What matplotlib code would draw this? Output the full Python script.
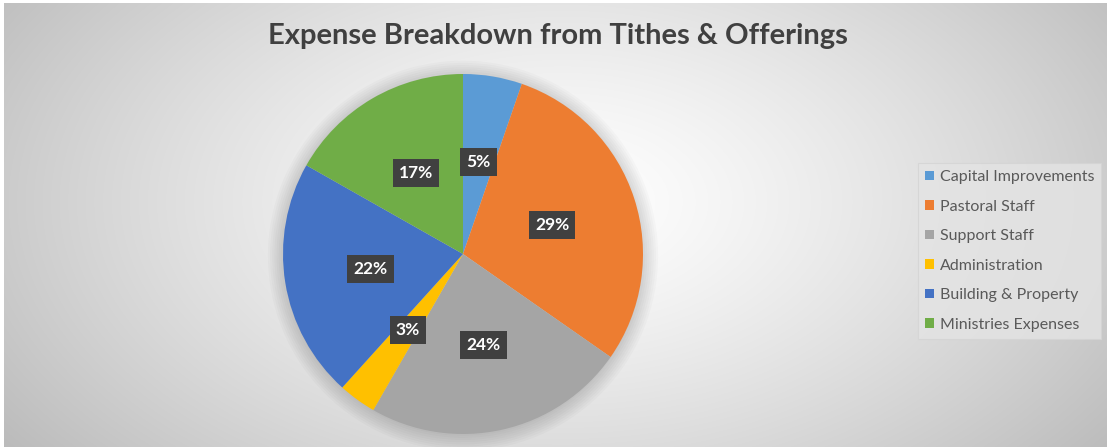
import numpy as np
import matplotlib
matplotlib.use("Agg")
import matplotlib.pyplot as plt
from matplotlib.patches import Patch

# data
categories = ["Capital Improvements", "Pastoral Staff", "Support Staff",
              "Administration", "Building & Property", "Ministries Expenses"]
shares = [5.3, 29.4, 23.6, 3.4, 21.5, 16.8]
colors = ["#5B9BD5", "#ED7D31", "#A5A5A5", "#FFC000", "#4472C4", "#70AD47"]
title = "Expense Breakdown from Tithes & Offerings"

plt.rcParams['font.family'] = ['Lato', 'DejaVu Sans']

W, H = 1107, 447
fig = plt.figure(figsize=(W / 100, H / 100), dpi=100)
fig.patch.set_facecolor("white")

# radial gradient background
bg = fig.add_axes([4 / W, 0, 1 - 4 / W, 1 - 3 / H])
yy, xx = np.mgrid[0:H, 0:W]
d = np.sqrt(((xx - 560) / 700.0) ** 2 + ((yy - 200) / 420.0) ** 2)
shade = 1.0 - 0.27 * np.clip(d, 0, 1.2) ** 1.3
bg.imshow(np.dstack([shade] * 3), aspect="auto", extent=[0, 1, 0, 1])
bg.set_axis_off()

# pie
cx, cy, r = 463, 254, 180
ax = fig.add_axes([(cx - r * 1.1) / W, (H - cy - r * 1.1) / H, 2.2 * r / W, 2.2 * r / H])
# soft shadow glow
for k in range(8):
    ax.add_patch(plt.Circle((0.0, -0.01), 1.0 + 0.012 * k, color="#000000",
                            alpha=0.018, lw=0, zorder=0))
wedges, texts, autotexts = ax.pie(
    shares, colors=colors, startangle=90, counterclock=False,
    autopct="%.0f%%", pctdistance=0.52, radius=1.0,
    wedgeprops=dict(linewidth=0),
    textprops=dict(color="white", fontsize=12.5, fontweight="bold"))
for t in autotexts:
    t.set_bbox(dict(boxstyle="square,pad=0.35", fc="#404040", ec="none"))
ax.set_xlim(-1.1, 1.1)
ax.set_ylim(-1.1, 1.1)
ax.set_position([(cx - r * 1.1) / W, (H - cy - r * 1.1) / H, 2.2 * r / W, 2.2 * r / H])
ax.set_axis_off()

fig.text(558 / W, 1 - 36 / H, title, ha="center", va="center",
         fontsize=21, fontweight="bold", color="#404040")

handles = [Patch(facecolor=c, edgecolor="none") for c in colors]
leg = fig.legend(handles, categories, loc="upper left",
                 bbox_to_anchor=(918 / W, 1 - 163 / H),
                 fontsize=11.5, labelcolor="#595959", frameon=True,
                 fancybox=False, handlelength=0.55, handleheight=0.55,
                 handletextpad=0.35, labelspacing=0.97, borderpad=0.45,
                 borderaxespad=0)
leg.get_frame().set_facecolor("#e4e4e4")
leg.get_frame().set_edgecolor("#d4d4d4")
leg.get_frame().set_linewidth(0.8)

fig.savefig("out.png", dpi=100)
